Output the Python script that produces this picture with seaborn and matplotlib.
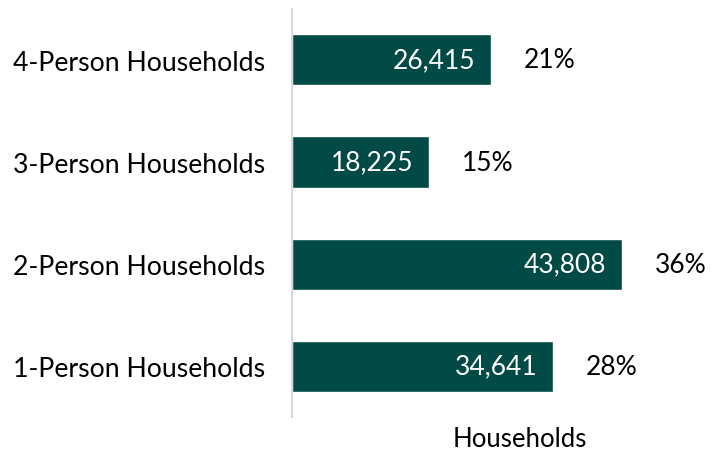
import pandas as pd
import seaborn as sb
import matplotlib.pyplot as plt

categorias = ["4-Person Households", "3-Person Households",
              "2-Person Households", "1-Person Households"]
hogares = [26415, 18225, 43808, 34641]
porcentajes = ["21%", "15%", "36%", "28%"]

datos = pd.DataFrame({"categoria": categorias, "hogares": hogares})

sb.set_theme(style="white")
plt.rcParams["font.family"] = ["Lato", "DejaVu Sans"]

fig = plt.figure(figsize=(7.17, 4.52), dpi=100)
ax = fig.add_axes([0.407, 0.075, 0.573, 0.903])

sb.barplot(data=datos, x="hogares", y="categoria", order=categorias,
           color="#024A45", saturation=1, width=0.5, orient="h", ax=ax)

for i, (v, p) in enumerate(zip(hogares, porcentajes)):
    ax.annotate(f"{v:,}", (v, i), xytext=(-11, 0), textcoords="offset points",
                ha="right", va="center", color="white", fontsize=19)
    ax.annotate(p, (v, i), xytext=(24, 0), textcoords="offset points",
                ha="left", va="center", color="black", fontsize=19)

ax.set_xlim(0, 54560)
ax.set_ylim(3.5, -0.5)
ax.set_ylabel("")
ax.set_xlabel("Households", fontsize=18.5, color="black")
ax.xaxis.set_label_coords(0.555, -0.022)
ax.set_xticks([])
ax.tick_params(axis="y", length=0, labelsize=19.2, labelcolor="black", pad=19)
for s in ["top", "right", "bottom"]:
    ax.spines[s].set_visible(False)
ax.spines["left"].set_color("#D9D9D9")
ax.spines["left"].set_linewidth(1.5)

fig.savefig("out.png", dpi=100)
